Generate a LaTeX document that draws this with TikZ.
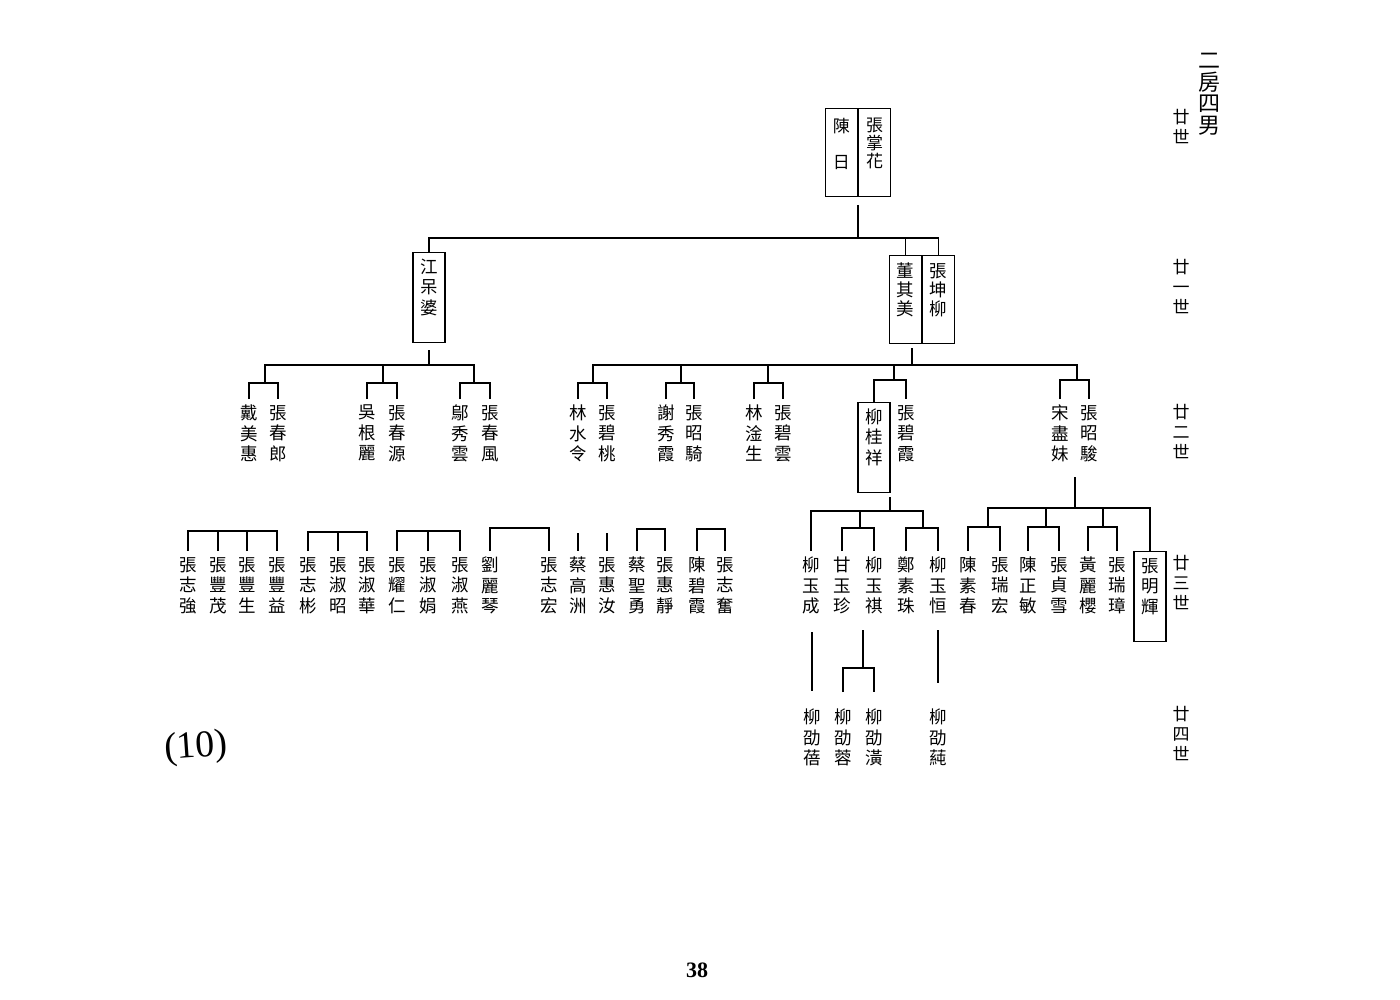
\documentclass[tikz,border=0pt]{standalone}
\usepackage{fontspec}
\newfontfamily\cjk{Noto Sans CJK TC}
\newfontfamily\timesfont{Liberation Serif}
\usepackage{tikz}

\tikzset{
  person/.style={font=\cjk\fontsize{17.5}{20.5}\selectfont, align=center, inner xsep=2pt, inner ysep=6pt, anchor=north},
  personbox/.style={person, draw, line width=1.1pt, minimum width=32pt, minimum height=90pt},
  cell/.style={personbox, minimum height=88pt},
  genlabel/.style={font=\cjk\fontsize{17}{20}\selectfont, align=center, inner sep=0pt, anchor=north},
  link/.style={line width=1.3pt},
}

\begin{document}
\begin{tikzpicture}[x=1pt,y=-1pt]
\useasboundingbox[fill=white] (0,0) rectangle (1400,1000);
% heading and generations
\node[genlabel, font=\cjk\fontsize{22}{21.5}\selectfont] (Head) at (1209,53) {二\\房\\四\\男};
\node[genlabel] (Gen20) at (1181,109) {廿\\世};
\node[genlabel] (Gen21) at (1181,259) {廿\\一\\世};
\node[genlabel] (Gen22) at (1181,404) {廿\\二\\世};
\node[genlabel] (Gen23) at (1181,555) {廿\\三\\世};
\node[genlabel] (Gen24) at (1181,706) {廿\\四\\世};
\node[font=\timesfont\fontsize{38}{38}\selectfont, rotate=4, inner sep=0pt] (Plate) at (196,748) {(10)};
\node[font=\timesfont\bfseries\fontsize{22}{22}\selectfont, inner sep=0pt] (Page) at (697,970) {38};

% 20th generation
\node[cell, font=\cjk\fontsize{17}{18}\selectfont, anchor=north east] (ChenRi) at (858,108) {陳\\\phantom{日}\\日\\\phantom{日}};
\node[cell, font=\cjk\fontsize{17}{18}\selectfont, anchor=north west] (ZhangZH) at (858,108) {張\\掌\\花\\\phantom{花}};
\coordinate (T1) at (858,205);
\coordinate (T0) at (858,238);
\draw[link] (T1) -- (T0);

% 21st generation
\node[personbox] (JiangDP) at (429,252) {江\\呆\\婆\\\phantom{婆}};
\node[cell, font=\cjk\fontsize{17.5}{19}\selectfont, anchor=north east] (DongQM) at (922,255) {董\\其\\美\\\phantom{美}};
\node[cell, font=\cjk\fontsize{17.5}{19}\selectfont, anchor=north west] (ZhangKL) at (922,255) {張\\坤\\柳\\\phantom{柳}};
\draw[link] (JiangDP.north) -- (JiangDP.north |- T0) -- (ZhangKL.north |- T0) -- (ZhangKL.north);
\draw[link] (DongQM.north) -- (DongQM.north |- T0);

% 22nd generation
\node[person] (DaiMH) at (249,399) {戴\\美\\惠};
\node[person] (ZhangCL) at (278,399) {張\\春\\郎};
\node[person] (WuGL) at (367,399) {吳\\根\\麗};
\node[person] (ZhangCY) at (397,399) {張\\春\\源};
\node[person] (WuXY) at (460,399) {鄔\\秀\\雲};
\node[person] (ZhangCF) at (490,399) {張\\春\\風};
\node[person] (LinSL) at (578,399) {林\\水\\令};
\node[person] (ZhangBT) at (607,399) {張\\碧\\桃};
\node[person] (XieXX) at (666,399) {謝\\秀\\霞};
\node[person] (ZhangZQ) at (694,399) {張\\昭\\騎};
\node[person] (LinGS) at (754,399) {林\\淦\\生};
\node[person] (ZhangBY) at (783,399) {張\\碧\\雲};
\node[personbox] (LiuGX) at (874,402) {柳\\桂\\祥\\\phantom{祥}};
\node[person] (ZhangBX) at (906,399) {張\\碧\\霞};
\node[person] (SongJM) at (1060,399) {宋\\盡\\妹};
\node[person] (ZhangZJ) at (1089,399) {張\\昭\\駿};

\coordinate (B21Ltop) at (429,350);
\coordinate (B21L) at (429,365);
\coordinate (C1) at (265,383);
\coordinate (C2) at (383,383);
\coordinate (C3) at (474,383);
\draw[link] (B21Ltop) -- (B21L);
\draw[link] (C1) |- (B21L) -| (C3);
\draw[link] (C2) -- (C2 |- B21L);
\draw[link] (DaiMH.north) |- (C1) -| (ZhangCL.north);
\draw[link] (WuGL.north) |- (C2) -| (ZhangCY.north);
\draw[link] (WuXY.north) |- (C3) -| (ZhangCF.north);

\coordinate (B21Rtop) at (912,348);
\coordinate (B21R) at (912,365);
\coordinate (C4) at (593,383);
\coordinate (C5) at (681,383);
\coordinate (C6) at (768,383);
\coordinate (C7) at (894,380);
\coordinate (C8) at (1077,380);
\draw[link] (B21Rtop) -- (B21R);
\draw[link] (C4) |- (B21R) -| (C8);
\draw[link] (C5) -- (C5 |- B21R);
\draw[link] (C6) -- (C6 |- B21R);
\draw[link] (C7) -- (C7 |- B21R);
\draw[link] (LinSL.north) |- (C4) -| (ZhangBT.north);
\draw[link] (XieXX.north) |- (C5) -| (ZhangZQ.north);
\draw[link] (LinGS.north) |- (C6) -| (ZhangBY.north);
\draw[link] (LiuGX.north) |- (C7) -| (ZhangBX.north);
\draw[link] (SongJM.north) |- (C8) -| (ZhangZJ.north);

% 23rd generation
\node[person] (ZhangZQg) at (188,551) {張\\志\\強};
\node[person] (ZhangFM) at (218,551) {張\\豐\\茂};
\node[person] (ZhangFS) at (247,551) {張\\豐\\生};
\node[person] (ZhangFY) at (277,551) {張\\豐\\益};
\node[person] (ZhangZB) at (308,551) {張\\志\\彬};
\node[person] (ZhangSZ) at (338,551) {張\\淑\\昭};
\node[person] (ZhangSH) at (367,551) {張\\淑\\華};
\node[person] (ZhangYR) at (397,551) {張\\耀\\仁};
\node[person] (ZhangSJ) at (428,551) {張\\淑\\娟};
\node[person] (ZhangSY) at (460,551) {張\\淑\\燕};
\node[person] (LiuLQ) at (490,551) {劉\\麗\\琴};
\node[person] (ZhangZH2) at (549,551) {張\\志\\宏};
\node[person] (CaiGZ) at (578,551) {蔡\\高\\洲};
\node[person] (ZhangHR) at (607,551) {張\\惠\\汝};
\node[person] (CaiSY) at (637,551) {蔡\\聖\\勇};
\node[person] (ZhangHJ) at (665,551) {張\\惠\\靜};
\node[person] (ChenBX) at (697,551) {陳\\碧\\霞};
\node[person] (ZhangZF) at (725,551) {張\\志\\奮};
\node[person] (LiuYC) at (811,551) {柳\\玉\\成};
\node[person] (GanYZ) at (842,551) {甘\\玉\\珍};
\node[person] (LiuYQ) at (874,551) {柳\\玉\\祺};
\node[person] (ZhengSZ) at (906,551) {鄭\\素\\珠};
\node[person] (LiuYH) at (938,551) {柳\\玉\\恒};
\node[person] (ChenSC) at (968,551) {陳\\素\\春};
\node[person] (ZhangRH) at (1000,551) {張\\瑞\\宏};
\node[person] (ChenZM) at (1028,551) {陳\\正\\敏};
\node[person] (ZhangZX) at (1059,551) {張\\貞\\雪};
\node[person] (HuangLY) at (1088,551) {黃\\麗\\櫻};
\node[person] (ZhangRZ) at (1117,551) {張\\瑞\\璋};
\node[personbox] (ZhangMH) at (1150,551) {張\\明\\輝\\\phantom{輝}};

\coordinate (F1) at (233,531);
\coordinate (F2) at (338,532);
\coordinate (F3) at (428,531);
\coordinate (F4) at (520,528);
\coordinate (F5) at (651,529);
\coordinate (F6) at (711,529);
\coordinate (G1) at (578,533);
\coordinate (G2) at (607,533);
\draw[link] (ZhangZQg.north) |- (F1) -| (ZhangFY.north);
\draw[link] (ZhangFM.north) -- (ZhangFM.north |- F1);
\draw[link] (ZhangFS.north) -- (ZhangFS.north |- F1);
\draw[link] (ZhangZB.north) |- (F2) -| (ZhangSH.north);
\draw[link] (ZhangSZ.north) -- (ZhangSZ.north |- F2);
\draw[link] (ZhangYR.north) |- (F3) -| (ZhangSY.north);
\draw[link] (ZhangSJ.north) -- (ZhangSJ.north |- F3);
\draw[link] (LiuLQ.north) |- (F4) -| (ZhangZH2.north);
\draw[link] (G1) -- (CaiGZ.north);
\draw[link] (G2) -- (ZhangHR.north);
\draw[link] (CaiSY.north) |- (F5) -| (ZhangHJ.north);
\draw[link] (ChenBX.north) |- (F6) -| (ZhangZF.north);

\coordinate (B22atop) at (890,497);
\coordinate (B22a) at (890,511);
\coordinate (D1) at (860,528);
\coordinate (D2) at (923,528);
\draw[link] (B22atop) -- (B22a);
\draw[link] (LiuYC.north) |- (B22a) -| (D2);
\draw[link] (D1) -- (D1 |- B22a);
\draw[link] (GanYZ.north) |- (D1) -| (LiuYQ.north);
\draw[link] (ZhengSZ.north) |- (D2) -| (LiuYH.north);

\coordinate (S0) at (1075,477);
\coordinate (B22b) at (1075,508);
\coordinate (E1) at (988,527);
\coordinate (E2) at (1046,527);
\coordinate (E3) at (1103,527);
\draw[link] (S0) -- (B22b);
\draw[link] (E1) |- (B22b) -| (ZhangMH.north);
\draw[link] (E2) -- (E2 |- B22b);
\draw[link] (E3) -- (E3 |- B22b);
\draw[link] (ChenSC.north) |- (E1) -| (ZhangRH.north);
\draw[link] (ChenZM.north) |- (E2) -| (ZhangZX.north);
\draw[link] (HuangLY.north) |- (E3) -| (ZhangRZ.north);

% 24th generation
\node[person] (LiuSB) at (812,703) {柳\\劭\\蓓};
\node[person] (LiuSR) at (843,703) {柳\\劭\\蓉};
\node[person] (LiuSH) at (874,703) {柳\\劭\\潢};
\node[person] (LiuSC) at (938,703) {柳\\劭\\蒓};
\coordinate (H1) at (812,632);
\coordinate (H2) at (863,630);
\coordinate (H2b) at (863,668);
\coordinate (H3) at (938,630);
\draw[link] (H1) -- ([yshift=12pt]LiuSB.north);
\draw[link] (H2) -- (H2b);
\draw[link] ([yshift=11pt]LiuSR.north) |- (H2b) -| ([yshift=11pt]LiuSH.north);
\draw[link] (H3) -- ([yshift=20pt]LiuSC.north);
\end{tikzpicture}
\end{document}
